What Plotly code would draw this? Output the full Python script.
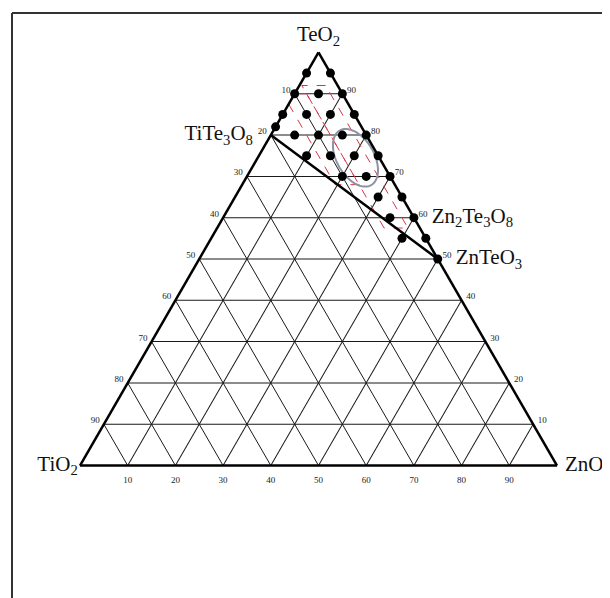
import numpy as np
import plotly.graph_objects as go

# ---- data (mol %): TeO2 (top), TiO2 (bottom-left), ZnO (bottom-right)
dot_teo2 = [95, 95, 90, 90, 90, 85, 85, 85, 85, 82, 80, 80, 80, 80, 75, 75, 75, 75, 70, 70, 70, 65, 65, 60, 60, 55, 55, 50]
dot_tio2 = [5, 0, 10, 5, 0, 15, 10, 5, 0, 18, 15, 10, 5, 0, 15, 10, 5, 0, 10, 5, 0, 5, 0, 5, 0, 5, 0, 0]
dot_zno = [0, 5, 0, 5, 10, 0, 5, 10, 15, 0, 5, 10, 15, 20, 10, 15, 20, 25, 20, 25, 30, 30, 35, 35, 40, 40, 45, 50]

# join line TiTe3O8 -> ZnTeO3
join_teo2 = [80, 50]
join_tio2 = [20, 0]
join_zno = [0, 50]

# compound labels
comp_names = ["TiTe<sub>3</sub>O<sub>8</sub>", "Zn<sub>2</sub>Te<sub>3</sub>O<sub>8</sub>", "ZnTeO<sub>3</sub>"]
comp_teo2 = [80, 60, 50]
comp_tio2 = [20, 0, 0]
comp_zno = [0, 40, 50]

tick_values = [10, 20, 30, 40, 50, 60, 70, 80, 90]

# red dashed glass-forming strips: (TeO2 top, TeO2 bottom, TiO2 low, TiO2 high)
strip_teo2_top = [90, 92]
strip_teo2_bot = [68, 57.5]
strip_tio2_lo = [7.5, 2.5]
strip_tio2_hi = [12.5, 7.5]

# grey ellipse: centre composition and semi-axes (mol % units)
ell_center = (74.5, 5, 20.5)
ell_semi_major = 6.6
ell_semi_minor = 3.9

SERIF = "Liberation Serif, Times New Roman, serif"

fig = go.Figure()

# red dashed strips
for t, bt, lo, hi in zip(strip_teo2_top, strip_teo2_bot, strip_tio2_lo, strip_tio2_hi):
    a = [t, t, bt, bt, t]
    b = [lo, hi, hi, lo, lo]
    c = [100 - x - y for x, y in zip(a, b)]
    fig.add_trace(go.Scatterternary(a=a, b=b, c=c, mode="lines",
                                    line=dict(color="#d9334a", width=1, dash="dash"),
                                    hoverinfo="skip", showlegend=False))

# grey ellipse (outline computed in the triangle's cartesian frame)
s3 = np.sqrt(3) / 2
ca, cb, cc = ell_center
cx, cy = cc + ca / 2, ca * s3
ang = np.deg2rad(-60)
tt = np.linspace(0, 2 * np.pi, 120)
ex = cx + ell_semi_major * np.cos(tt) * np.cos(ang) - ell_semi_minor * np.sin(tt) * np.sin(ang)
ey = cy + ell_semi_major * np.cos(tt) * np.sin(ang) + ell_semi_minor * np.sin(tt) * np.cos(ang)
ea = ey / s3
ec = ex - ea / 2
eb = 100 - ea - ec
fig.add_trace(go.Scatterternary(a=ea, b=eb, c=ec, mode="lines",
                                line=dict(color="#8c93a3", width=2),
                                hoverinfo="skip", showlegend=False))

# thick join line
fig.add_trace(go.Scatterternary(a=join_teo2, b=join_tio2, c=join_zno, mode="lines",
                                line=dict(color="black", width=2.5),
                                hoverinfo="skip", showlegend=False))

# composition dots
fig.add_trace(go.Scatterternary(a=dot_teo2, b=dot_tio2, c=dot_zno, mode="markers",
                                marker=dict(color="black", size=9),
                                showlegend=False, cliponaxis=False))

tick_font = dict(family=SERIF, size=9, color="#222")
lift = 0.8
# left edge labels (TiO2 %)
fig.add_trace(go.Scatterternary(a=[100 - v + lift for v in tick_values], b=[v - lift for v in tick_values],
                                c=[0] * 9, mode="markers+text",
                                text=[str(v) for v in tick_values], textposition="middle left",
                                marker=dict(size=8, opacity=0), textfont=tick_font,
                                hoverinfo="skip", showlegend=False, cliponaxis=False))
# right edge labels (TeO2 %)
fig.add_trace(go.Scatterternary(a=[v + lift for v in tick_values], b=[0] * 9,
                                c=[100 - v - lift for v in tick_values], mode="markers+text",
                                text=[str(v) for v in tick_values], textposition="middle right",
                                marker=dict(size=9, opacity=0), textfont=tick_font,
                                hoverinfo="skip", showlegend=False, cliponaxis=False))
# bottom labels (ZnO %)
fig.add_trace(go.Scatterternary(a=[0] * 9, b=[100 - v for v in tick_values], c=tick_values,
                                mode="markers+text",
                                text=[str(v) for v in tick_values], textposition="bottom center",
                                marker=dict(size=16, opacity=0), textfont=tick_font,
                                hoverinfo="skip", showlegend=False, cliponaxis=False))

label_font = dict(family=SERIF, size=21, color="#111")
# corner labels
fig.add_trace(go.Scatterternary(a=[100], b=[0], c=[0], mode="markers+text", text=["TeO<sub>2</sub>"],
                                textposition="top center", marker=dict(size=8, opacity=0),
                                textfont=label_font, hoverinfo="skip", showlegend=False, cliponaxis=False))
fig.add_trace(go.Scatterternary(a=[0], b=[100], c=[0], mode="markers+text", text=["TiO<sub>2</sub>"],
                                textposition="middle left", marker=dict(size=2, opacity=0),
                                textfont=label_font, hoverinfo="skip", showlegend=False, cliponaxis=False))
fig.add_trace(go.Scatterternary(a=[0], b=[0], c=[100], mode="markers+text", text=["ZnO"],
                                textposition="middle right", marker=dict(size=11, opacity=0),
                                textfont=label_font, hoverinfo="skip", showlegend=False, cliponaxis=False))
# compound labels
fig.add_trace(go.Scatterternary(a=comp_teo2[:1], b=comp_tio2[:1], c=comp_zno[:1], mode="markers+text",
                                text=comp_names[:1], textposition="middle left",
                                marker=dict(size=27, opacity=0), textfont=label_font,
                                hoverinfo="skip", showlegend=False, cliponaxis=False))
fig.add_trace(go.Scatterternary(a=comp_teo2[1:], b=comp_tio2[1:], c=comp_zno[1:], mode="markers+text",
                                text=comp_names[1:], textposition="middle right",
                                marker=dict(size=27, opacity=0), textfont=label_font,
                                hoverinfo="skip", showlegend=False, cliponaxis=False))

axis_common = dict(showticklabels=False, ticks="", dtick=10, tick0=0, min=0,
                   linecolor="black", linewidth=2.5, showgrid=True,
                   gridcolor="#1a1a1a", gridwidth=1, title=dict(text=""))

ML, MT, PW, PH = 72, 44, 477, 414
fig.update_layout(
    width=602, height=590,
    margin=dict(l=ML, r=602 - ML - PW, t=MT, b=590 - MT - PH),
    paper_bgcolor="white",
    ternary=dict(sum=100, bgcolor="white",
                 aaxis=axis_common, baxis=axis_common, caxis=axis_common),
    shapes=[
        dict(type="line", xref="paper", yref="paper", x0=(4 - ML) / PW, x1=1.3,
             y0=1 + (MT - 5) / PH, y1=1 + (MT - 5) / PH, line=dict(color="#333", width=2)),
        dict(type="line", xref="paper", yref="paper", x0=(4 - ML) / PW, x1=(4 - ML) / PW,
             y0=1 + (MT - 5) / PH, y1=-0.5, line=dict(color="#333", width=2)),
    ],
)

fig.write_html("out.html")
